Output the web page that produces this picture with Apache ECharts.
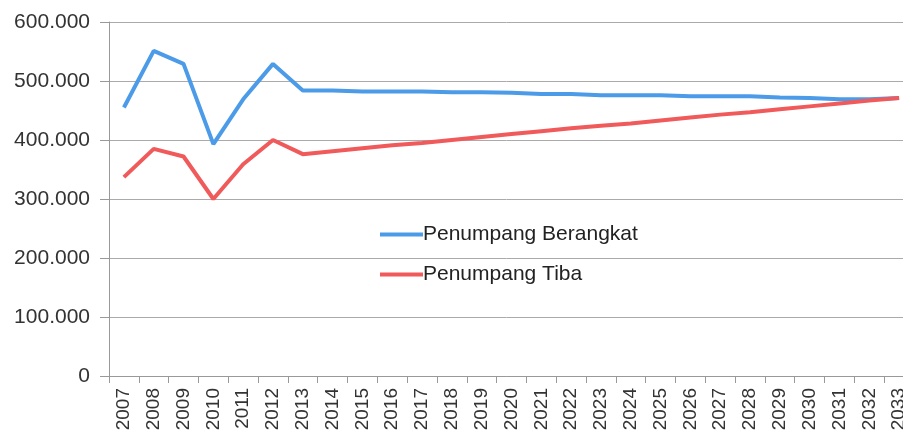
<!DOCTYPE html>
<html><head><meta charset="utf-8">
<script src="https://cdn.jsdelivr.net/npm/echarts@6/dist/echarts.min.js"></script>
<style>html,body{margin:0;padding:0;background:#fff}#c{width:903px;height:437px}</style>
</head><body><div id="c"></div>
<script>
const years = ['2007','2008','2009','2010','2011','2012','2013','2014','2015','2016','2017','2018','2019','2020','2021','2022','2023','2024','2025','2026','2027','2028','2029','2030','2031','2032','2033'];
const berangkat = [455000,551000,529000,393000,469000,529000,484000,484000,482000,482000,482000,481000,481000,480000,478000,478000,476000,476000,476000,474000,474000,474000,472000,471000,469000,469000,471000];
const tiba = [337000,385000,372000,300000,359000,400000,376000,381000,386000,391000,395000,400000,405000,410000,415000,420000,424000,428000,433000,438000,443000,447000,452000,457000,462000,467000,471000];
const yTicks = [0,100000,200000,300000,400000,500000,600000];

function fmt(v){ return v === 0 ? '0' : String(v).replace(/\B(?=(\d{3})+(?!\d))/g, '.'); }

const chart = echarts.init(document.getElementById('c'), null, {renderer:'canvas'});
chart.setOption({
  animation:false,
  backgroundColor:'#fff',
  grid:{left:109, top:22, width:805, bottom:61, containLabel:false, outerBoundsMode:'none'},
  legend:{
    orient:'vertical', left:375, top:219, itemGap:19,
    icon:'rect', itemWidth:43, itemHeight:4,
    textStyle:{fontFamily:'Liberation Sans', fontSize:21, color:'#222', padding:[0,0,0,-5]},
    data:['Penumpang Berangkat','Penumpang Tiba']
  },
  xAxis:{
    type:'category', data:years, boundaryGap:true,
    axisLine:{lineStyle:{color:'#999'}},
    axisTick:{show:true, length:7, lineStyle:{color:'#999'}},
    axisLabel:{rotate:90, fontFamily:'Liberation Sans', fontSize:19, color:'#333', margin:12}
  },
  yAxis:{
    type:'value', min:yTicks[0], max:yTicks[yTicks.length-1], interval:100000,
    axisLine:{show:true, lineStyle:{color:'#999'}},
    axisTick:{show:true, length:9, lineStyle:{color:'#999'}},
    splitLine:{lineStyle:{color:'#aaa', width:1}},
    axisLabel:{formatter:fmt, fontFamily:'Liberation Sans', fontSize:21, color:'#333', margin:19}
  },
  series:[
    {name:'Penumpang Berangkat', type:'line', data:berangkat, symbol:'none',
     lineStyle:{color:'#4c9be8', width:4}, itemStyle:{color:'#4c9be8'}},
    {name:'Penumpang Tiba', type:'line', data:tiba, symbol:'none',
     lineStyle:{color:'#f05a5a', width:4}, itemStyle:{color:'#f05a5a'}}
  ]
});
</script></body></html>
